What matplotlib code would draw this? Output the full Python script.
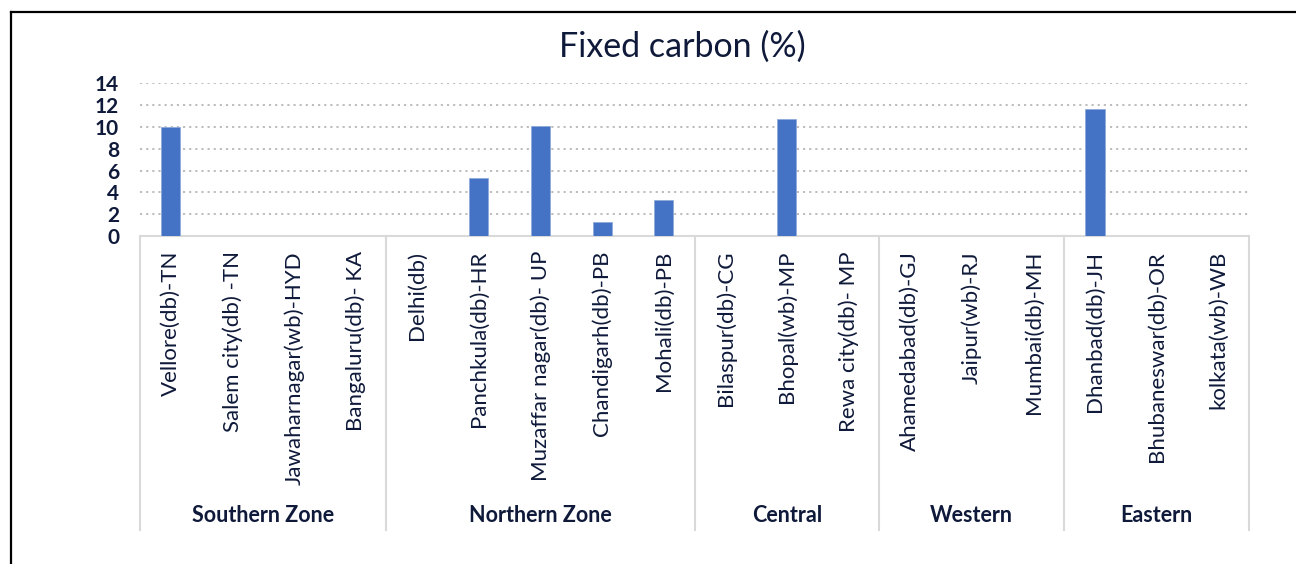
import matplotlib
matplotlib.use("Agg")
import matplotlib.pyplot as plt
from matplotlib.lines import Line2D
from matplotlib.transforms import blended_transform_factory

plt.rcParams['font.family'] = ['Lato', 'DejaVu Sans']

# Data
zones = ["Southern Zone", "Northern Zone", "Central", "Western", "Eastern"]
zone_sizes = [4, 5, 3, 3, 3]
sites = [
    "Vellore(db)-TN", "Salem city(db) -TN", "Jawaharnagar(wb)-HYD", "Bangaluru(db)- KA",
    "Delhi(db)", "Panchkula(db)-HR", "Muzaffar nagar(db)- UP", "Chandigarh(db)-PB", "Mohali(db)-PB",
    "Bilaspur(db)-CG", "Bhopal(wb)-MP", "Rewa city(db)- MP",
    "Ahamedabad(db)-GJ", "Jaipur(wb)-RJ", "Mumbai(db)-MH",
    "Dhanbad(db)-JH", "Bhubaneswar(db)-OR", "kolkata(wb)-WB",
]
fixed_carbon = [10.0, 0, 0, 0,
                0, 5.3, 10.1, 1.3, 3.3,
                0, 10.7, 0,
                0, 0, 0,
                11.6, 0, 0]
yticks = [0, 2, 4, 6, 8, 10, 12, 14]

W, H = 1296, 564
text_color = "#0f1a3a"
line_gray = "#d9d9d9"

fig = plt.figure(figsize=(W / 100, H / 100), dpi=100)
ax = fig.add_axes([140 / W, 1 - 236 / H, (1249 - 140) / W, (236 - 83.3) / H])

x = list(range(len(sites)))
ax.bar(x, fixed_carbon, width=0.31, color="#4472c4", edgecolor="#8eaadb",
       linewidth=0.6, zorder=3)

ax.set_xlim(-0.5, len(sites) - 0.5)
ax.set_ylim(0, 14)
ax.set_yticks(yticks)
ax.set_yticklabels([str(t) for t in yticks], fontsize=15, fontweight="bold",
                   color=text_color)
ax.tick_params(axis="y", length=0, pad=15)
ax.set_xticks([])
ax.yaxis.grid(True, linestyle=(0, (1.2, 2.2)), color="#b8b8b8", linewidth=1.3)
for s in ["left", "right", "top"]:
    ax.spines[s].set_visible(False)
ax.spines["bottom"].set_color(line_gray)
ax.spines["bottom"].set_linewidth(1.5)
ax.set_axisbelow(True)

# Category axis: site labels, zone separators and zone labels
trans = blended_transform_factory(ax.transData, fig.transFigure)
y_axis = 1 - 236 / H
y_bottom = 1 - 530 / H
for i, name in enumerate(sites):
    ax.text(i, 1 - 251 / H, name, transform=trans, rotation=90, ha="center",
            va="top", fontsize=16, color=text_color)

bounds = [-0.5]
for n in zone_sizes:
    bounds.append(bounds[-1] + n)
for b in bounds:
    ax.add_line(Line2D([b, b], [y_axis, y_bottom], transform=trans,
                       color=line_gray, linewidth=1.5, clip_on=False))
for zname, lo, hi in zip(zones, bounds[:-1], bounds[1:]):
    ax.text((lo + hi) / 2, 1 - 516 / H, zname, transform=trans, ha="center",
            va="center", fontsize=15.5, fontweight="bold", color=text_color)

# Title
fig.text(682 / W, 1 - 47 / H, "Fixed carbon (%)", ha="center", va="center",
         fontsize=24.5, color=text_color)

# Frame around the chart
fig.add_artist(Line2D([11 / W, 11 / W], [0, 1 - 12 / H], transform=fig.transFigure,
                      color="black", linewidth=1.6))
fig.add_artist(Line2D([11 / W, 1], [1 - 12 / H, 1 - 12 / H], transform=fig.transFigure,
                      color="black", linewidth=1.6))

fig.savefig("out.png", dpi=100)
